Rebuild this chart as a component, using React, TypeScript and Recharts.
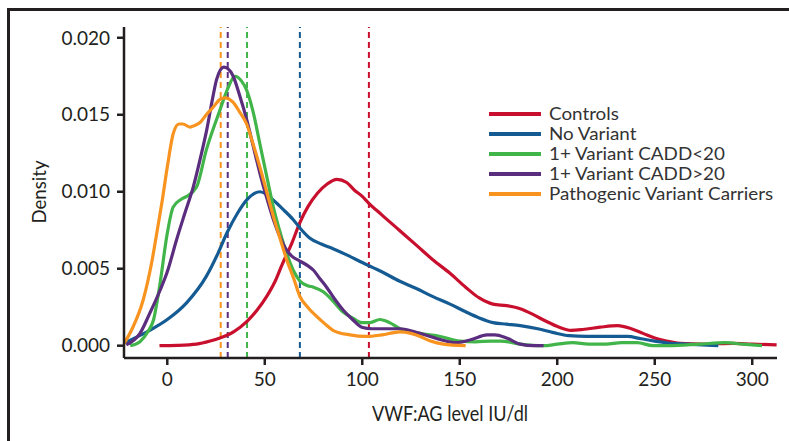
import { Line, LineChart, ReferenceLine, XAxis, YAxis } from "recharts";

// density curves as [VWF:AG level, density]
const controls = [
  [-4, 0], [5, 0.00002], [15, 0.0001], [22, 0.0003], [27, 0.0005], [34, 0.0009], [41, 0.0016],
  [46, 0.0023], [51, 0.0032], [55, 0.0041], [59, 0.0053], [64, 0.0067], [68, 0.008], [72, 0.009],
  [77, 0.0099], [82, 0.0105], [87, 0.0108], [92, 0.0106], [96, 0.0101], [100, 0.0097], [103, 0.0093],
  [110, 0.0085], [119, 0.0075], [128, 0.0065], [136, 0.0056], [145, 0.0047], [153, 0.0038],
  [160, 0.0031], [167, 0.0027], [174, 0.0026], [181, 0.0024], [188, 0.002], [194, 0.0016],
  [201, 0.0012], [207, 0.001], [213, 0.00105], [222, 0.0012], [231, 0.0013], [238, 0.0011],
  [244, 0.0008], [250, 0.0005], [256, 0.0003], [263, 0.00015], [275, 0.0001], [290, 0.00015],
  [300, 0.0001], [312.5, 0.00005],
];
const noVariant = [
  [-22.4, 0.00015], [-15, 0.0006], [-9, 0.001], [0, 0.0017], [10, 0.0028], [20, 0.0045],
  [26, 0.006], [30.5, 0.0073], [36, 0.0086], [41, 0.0095], [47.5, 0.01], [54, 0.0095],
  [59, 0.0089], [64.5, 0.0082], [69, 0.0075], [73, 0.007], [79, 0.0066], [85, 0.0063],
  [92, 0.0059], [100, 0.0054], [110, 0.0048], [119, 0.0042], [128, 0.0037], [136, 0.0032],
  [145, 0.0027], [153, 0.0022], [160, 0.0018], [167, 0.0015], [174, 0.0014], [181, 0.0013],
  [190, 0.0011], [198, 0.00085], [206, 0.00065], [215, 0.0006], [226, 0.0006], [236, 0.0006],
  [243, 0.00045], [250, 0.0003], [258, 0.00015], [266, 0.0001], [282.6, 0],
];
const caddLow = [
  [-19, 0], [-14, 0.00026], [-10, 0.0009], [-7, 0.0017], [-4, 0.0038], [0, 0.0073], [3, 0.009],
  [7, 0.0095], [10, 0.0097], [15, 0.0103], [20, 0.0127], [27, 0.0153], [31, 0.0167], [34.7, 0.0175],
  [38, 0.0172], [40.7, 0.0166], [44, 0.0152], [47.5, 0.0131], [51, 0.011], [54.4, 0.009],
  [58, 0.0073], [61.2, 0.006], [65, 0.0048], [68, 0.0042], [72, 0.0039], [75, 0.0038], [80, 0.0035],
  [85, 0.0029], [90, 0.0022], [95, 0.0018], [99.7, 0.0015], [104, 0.0015], [109, 0.0017],
  [114, 0.0015], [119.3, 0.0011], [129.6, 0.0008], [140, 0.0006], [150, 0.0003], [158, 0.00025],
  [166, 0.0003], [171, 0.0003], [181, 0.0001], [193, 0], [200, 0.0001], [208, 0.0002], [216, 0.0001],
  [225, 0.0001], [233, 0.0002], [241, 0.0002], [249, 0], [257, 0], [273, 0.0001], [286, 0.0002],
  [295, 0.0001], [305, 0],
];
const caddHigh = [
  [-21, 0.00005], [-14, 0.0008], [-9, 0.0021], [-3.7, 0.0036], [0, 0.0048], [4.8, 0.0069],
  [9, 0.0086], [13.3, 0.0103], [17, 0.0122], [20.2, 0.014], [23, 0.0159], [25.3, 0.0173],
  [29, 0.0181], [31, 0.018], [33.8, 0.0175], [37, 0.0163], [40.7, 0.0147], [44, 0.013],
  [47.5, 0.0112], [51, 0.0096], [54.4, 0.0082], [58, 0.007], [61.2, 0.0062], [64, 0.0058],
  [68, 0.0055], [72, 0.0052], [75, 0.0049], [78, 0.0044], [81.7, 0.0038], [86, 0.003],
  [90.3, 0.0023], [95, 0.0017], [99.7, 0.0012], [105, 0.0011], [110, 0.0011], [119.3, 0.0011],
  [129.6, 0.0008], [140, 0.0004], [148, 0.0002], [156, 0.0004], [164, 0.0007], [168, 0.0007],
  [174, 0.0005], [181, 0.0001], [188, 0], [193, 0],
];
const pathogenic = [
  [-22.4, 0.0001], [-18, 0.0011], [-12.3, 0.003], [-8, 0.0054], [-5.4, 0.0073], [-2.5, 0.0095],
  [0, 0.0116], [3.1, 0.0138], [6, 0.0144], [8, 0.0144], [11.6, 0.0142], [14, 0.0143], [16.8, 0.0145],
  [20, 0.015], [23.6, 0.0155], [27, 0.016], [29.6, 0.0161], [33.8, 0.0158], [37, 0.0152],
  [40.7, 0.0144], [44, 0.0131], [47.5, 0.0116], [51, 0.01], [54.4, 0.0084], [58, 0.0069],
  [61.2, 0.0056], [65, 0.0043], [68, 0.0032], [72, 0.0025], [76.6, 0.0019], [81, 0.0014],
  [85, 0.001], [93.7, 0.0007], [102, 0.0006], [110, 0.0007], [119.3, 0.0009], [125, 0.0008],
  [129.6, 0.0006], [135, 0.0003], [141.6, 0.0001], [153, 0],
];

const seriesNames = [
  "Controls",
  "No Variant",
  "1+ Variant CADD<20",
  "1+ Variant CADD>20",
  "Pathogenic Variant Carriers",
];
const seriesColors = ["#c8102e", "#155b93", "#41b549", "#5a2d7e", "#f7931e"];
const seriesCurves = [controls, noVariant, caddLow, caddHigh, pathogenic];
// medians shown as dashed verticals
const seriesMedians = [103.4, 68, 40.9, 31, 27.4];

const xTicks = [0, 50, 100, 150, 200, 250, 300];
const yTicks = [0, 0.005, 0.01, 0.015, 0.02];

const ink = "#231f20";
const tickFont = "Lato, 'Open Sans', sans-serif";

const toPoints = (pairs: number[][]) => pairs.map(([x, y]) => ({ x, y }));

const App = () => {
  return (
    <div style={{ position: "absolute", left: 0, top: 0, width: 789, height: 441, overflow: "hidden", background: "#fff" }}>
      <div
        style={{
          position: "absolute", left: 7, top: 8, width: 800, height: 460,
          borderTop: `3px solid ${ink}`, borderLeft: `3px solid ${ink}`,
        }}
      />
      <LineChart
        width={789}
        height={441}
        margin={{ top: 27, right: 12, bottom: 53, left: 0 }}
        style={{ position: "absolute", left: 0, top: 0 }}
      >
        <XAxis
          type="number"
          dataKey="x"
          height={30}
          domain={[-22.2, 312.7]}
          ticks={xTicks}
          allowDataOverflow
          stroke={ink}
          strokeWidth={2.5}
          tickSize={7}
          tickMargin={8}
          tick={{ fill: ink, fontSize: 19, fontFamily: tickFont }}
        />
        <YAxis
          type="number"
          width={124}
          domain={[-0.0008, 0.0207]}
          ticks={yTicks}
          allowDataOverflow
          tickFormatter={(v: number) => v.toFixed(3)}
          stroke={ink}
          strokeWidth={2.5}
          tickSize={7}
          tickMargin={7}
          tick={{ fill: ink, fontSize: 19, fontFamily: tickFont }}
        />
        {seriesMedians.map((m, i) => (
          <ReferenceLine key={"m" + i} x={m} stroke={seriesColors[i]} strokeWidth={2} strokeDasharray="6 4" />
        ))}
        {seriesCurves.map((c, i) => (
          <Line
            key={seriesNames[i]}
            name={seriesNames[i]}
            data={toPoints(c)}
            dataKey="y"
            type="monotone"
            stroke={seriesColors[i]}
            strokeWidth={3.2}
            dot={false}
            activeDot={false}
            isAnimationActive={false}
          />
        ))}
        <text
          x={38}
          y={192}
          transform="rotate(-90 38 192)"
          textAnchor="middle"
          dominantBaseline="central"
          fontFamily={tickFont}
          fontSize={20}
          textLength={63}
          lengthAdjust="spacingAndGlyphs"
          fill={ink}
        >
          Density
        </text>
        <text
          x={450}
          y={412}
          textAnchor="middle"
          dominantBaseline="central"
          fontFamily={tickFont}
          fontSize={21}
          textLength={156}
          lengthAdjust="spacingAndGlyphs"
          fill={ink}
        >
          VWF:AG level IU/dl
        </text>
      </LineChart>
      <div style={{ position: "absolute", left: 489, top: 104, fontFamily: tickFont, fontSize: 16.5, color: "#333" }}>
        {seriesNames.map((n, i) => (
          <div key={n} style={{ display: "flex", alignItems: "center", height: 20 }}>
            <div style={{ width: 52, height: 3.5, background: seriesColors[i], marginRight: 8 }} />
            <span
              style={{
                display: "inline-block", lineHeight: "19px", whiteSpace: "nowrap",
                transform: "scaleX(1.14)", transformOrigin: "left center",
              }}
            >
              {n}
            </span>
          </div>
        ))}
      </div>
    </div>
  );
};

export default App;
